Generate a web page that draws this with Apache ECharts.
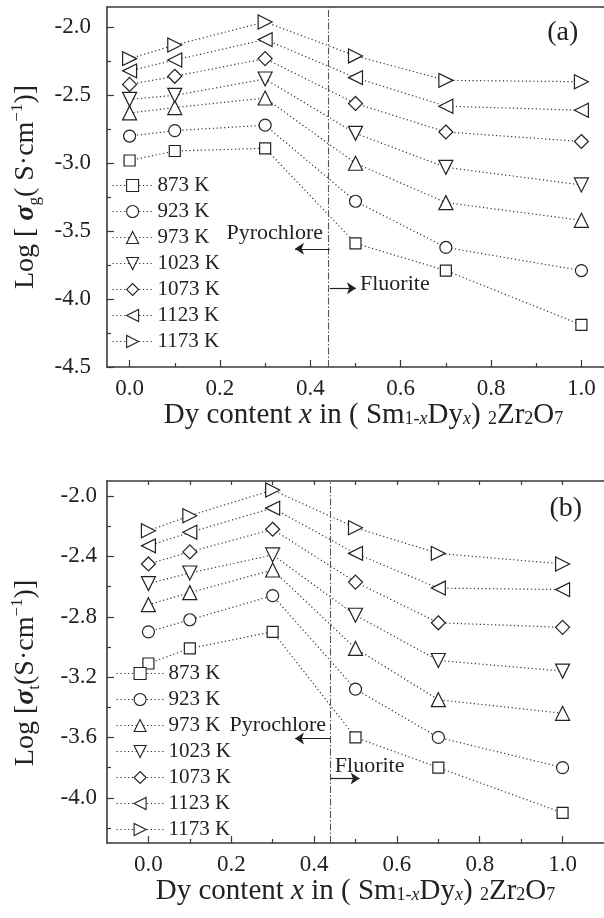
<!DOCTYPE html>
<html lang="en">
<head>
    <meta charset="UTF-8">
    <title>Sm-Dy zirconate conductivity</title>
    <script src="https://cdn.jsdelivr.net/npm/echarts@6/dist/echarts.min.js"></script>
    <style>
        body { margin: 0; background: #fff; }
    </style>
</head>
<body>
    <div id="main" style="width: 604px; height: 918px;"></div>
    <script>
        // Dy content x
        const xValues = [0, 0.1, 0.3, 0.5, 0.7, 1.0];
        const temperatures = ['873 K', '923 K', '973 K', '1023 K', '1073 K', '1123 K', '1173 K'];

        // (a) log sigma_g
        const g873 = [-2.98, -2.91, -2.89, -3.59, -3.79, -4.19];
        const g923 = [-2.80, -2.76, -2.72, -3.28, -3.62, -3.79];
        const g973 = [-2.63, -2.59, -2.52, -3.00, -3.29, -3.42];
        const g1023 = [-2.53, -2.50, -2.38, -2.78, -3.03, -3.16];
        const g1073 = [-2.42, -2.36, -2.23, -2.56, -2.77, -2.84];
        const g1123 = [-2.32, -2.24, -2.09, -2.37, -2.58, -2.61];
        const g1173 = [-2.23, -2.13, -1.96, -2.21, -2.39, -2.40];

        // (b) log sigma_t
        const t873 = [-3.11, -3.01, -2.90, -3.60, -3.80, -4.10];
        const t923 = [-2.90, -2.82, -2.66, -3.28, -3.60, -3.80];
        const t973 = [-2.72, -2.64, -2.49, -3.01, -3.35, -3.44];
        const t1023 = [-2.58, -2.51, -2.39, -2.79, -3.09, -3.16];
        const t1073 = [-2.45, -2.37, -2.22, -2.57, -2.84, -2.87];
        const t1123 = [-2.33, -2.24, -2.08, -2.38, -2.61, -2.62];
        const t1173 = [-2.23, -2.13, -1.96, -2.21, -2.38, -2.45];

        const sigmaG = [g873, g923, g973, g1023, g1073, g1123, g1173];
        const sigmaT = [t873, t923, t973, t1023, t1073, t1123, t1173];

        // tick labels
        const xTicksMajor = [0, 0.2, 0.4, 0.6, 0.8, 1.0];
        const xTicksMinor = [0.1, 0.3, 0.5, 0.7, 0.9];
        const xTicksTopB = [0, 0.1, 0.2, 0.3, 0.4, 0.5, 0.6, 0.7, 0.8, 0.9, 1.0];
        const yTicksMajorA = [-4.5, -4.0, -3.5, -3.0, -2.5, -2.0];
        const yTicksMinorA = [-4.25, -3.75, -3.25, -2.75, -2.25];
        const yTicksMajorB = [-4.0, -3.6, -3.2, -2.8, -2.4, -2.0];
        const yTicksMinorB = [-4.2, -3.8, -3.4, -3.0, -2.6, -2.2];

        // phase boundary and annotations (data units)
        const boundaryA = 0.443;
        const boundaryB = 0.439;
        const arrowsA = [[[0.443, -3.63], [0.366, -3.63]], [[0.443, -3.92], [0.501, -3.92]]];
        const arrowsB = [[[0.439, -3.607], [0.354, -3.607]], [[0.439, -3.872], [0.51, -3.872]]];
        const notesA = [['Pyrochlore', 0.428, -3.517, 'right', 22], ['Fluorite', 0.51, -3.89, 'left', 22], ['(a)', 0.993, -2.04, 'right', 28]];
        const notesB = [['Pyrochlore', 0.429, -3.519, 'right', 22], ['Fluorite', 0.45, -3.79, 'left', 22], ['(b)', 1.047, -2.08, 'right', 28]];

        const symbols = ['rect', 'circle', 'triangle', 'triangle', 'diamond', 'triangle', 'triangle'];
        const symbolRotations = [0, 0, 0, 180, 0, 90, -90];
        const symbolSizes = [11, 12, 14, 14, 14, 14, 14];

        const serif = "'Liberation Serif', 'Times New Roman', serif";
        const ink = '#222';
        const frame = '#3a3a3a';

        const chart = echarts.init(document.getElementById('main'));

        function lineSeries(values, i, xi, yi) {
            return {
                name: temperatures[i],
                type: 'line',
                xAxisIndex: xi,
                yAxisIndex: yi,
                data: xValues.map((x, k) => [x, values[k]]),
                symbol: symbols[i],
                symbolRotate: symbolRotations[i],
                symbolSize: symbolSizes[i],
                lineStyle: { type: [1.2, 2.6], width: 1.2, color: '#333' },
                itemStyle: { color: '#fff', borderColor: ink, borderWidth: 1.2 },
                emphasis: { disabled: true },
                z: 3
            };
        }

        function xAxes(grid, ticksTop) {
            const lo = grid === 0 ? -0.05 : -0.1;
            const hi = grid === 0 ? 1.05 : 1.1;
            return [
                {
                    type: 'value', gridIndex: grid, position: 'bottom', min: lo, max: hi,
                    axisLine: { onZero: false, lineStyle: { color: frame, width: 1.6 } },
                    axisTick: { inside: true, length: 7, customValues: xTicksMajor, lineStyle: { color: frame, width: 1.2 } },
                    axisLabel: { customValues: xTicksMajor, formatter: v => v.toFixed(1), fontFamily: serif, fontSize: 23, color: ink, margin: 10 },
                    splitLine: { show: false },
                    name: '{a|Dy content }{i|x}{a| in ( Sm}{s|1-}{si|x}{a|Dy}{si|x}{a|) }{s|2}{a|Zr}{s|2}{a|O}{s|7}',
                    nameLocation: 'middle',
                    nameGap: grid === 0 ? 29 : 33,
                    nameTextStyle: {
                        padding: [0, 0, 0, grid === 0 ? 16 : 0],
                        rich: {
                            a: { fontFamily: serif, fontSize: 29, color: ink, lineHeight: 30 },
                            i: { fontFamily: serif, fontSize: 29, fontStyle: 'italic', color: ink, lineHeight: 30 },
                            s: { fontFamily: serif, fontSize: 18, color: ink, lineHeight: 18, padding: [7, 0, 0, 0] },
                            si: { fontFamily: serif, fontSize: 18, fontStyle: 'italic', color: ink, lineHeight: 18, padding: [7, 0, 0, 0] }
                        }
                    }
                },
                {
                    type: 'value', gridIndex: grid, position: 'bottom', min: lo, max: hi,
                    axisLine: { show: false, onZero: false },
                    axisTick: { inside: true, length: 4, customValues: xTicksMinor, lineStyle: { color: frame, width: 1.2 } },
                    axisLabel: { show: false },
                    splitLine: { show: false }
                },
                {
                    type: 'value', gridIndex: grid, position: 'top', min: lo, max: hi,
                    axisLine: { onZero: false, lineStyle: { color: frame, width: 1.6 } },
                    axisTick: ticksTop
                        ? { inside: true, length: 4, customValues: xTicksTopB, lineStyle: { color: frame, width: 1.2 } }
                        : { show: false },
                    axisLabel: { show: false },
                    splitLine: { show: false }
                }
            ];
        }

        function yAxes(grid, major, minor, min, max, name, gap, pad) {
            return [
                {
                    type: 'value', gridIndex: grid, min: min, max: max, position: 'left',
                    axisLine: { show: true, onZero: false, lineStyle: { color: frame, width: 1.6 } },
                    axisTick: { show: true, inside: true, length: 7, customValues: major, lineStyle: { color: frame, width: 1.2 } },
                    axisLabel: { customValues: major, formatter: v => v.toFixed(1), fontFamily: serif, fontSize: 23, color: ink, margin: grid === 0 ? 16 : 10 },
                    splitLine: { show: false },
                    name: name,
                    nameLocation: 'middle',
                    nameRotate: 90,
                    nameGap: gap,
                    nameTextStyle: {
                        padding: pad,
                        rich: {
                            a: { fontFamily: serif, fontSize: 28, color: ink, lineHeight: 34 },
                            g: { fontFamily: serif, fontSize: 28, fontStyle: 'italic', fontWeight: 'bold', color: ink, lineHeight: 34 },
                            sub: { fontFamily: serif, fontSize: 17, color: ink, lineHeight: 16, verticalAlign: 'bottom' },
                            sup: { fontFamily: serif, fontSize: 17, color: ink, lineHeight: 16, verticalAlign: 'top' }
                        }
                    }
                },
                {
                    type: 'value', gridIndex: grid, min: min, max: max, position: 'left',
                    axisLine: { show: false, onZero: false },
                    axisTick: { show: true, inside: true, length: 4, customValues: minor, lineStyle: { color: frame, width: 1.2 } },
                    axisLabel: { show: false },
                    splitLine: { show: false }
                }
            ];
        }

        function legendFor(top, left, width) {
            return {
                data: temperatures,
                orient: 'vertical',
                left: left,
                top: top,
                padding: 0,
                itemGap: 5,
                itemWidth: width,
                itemHeight: 15,
                selectedMode: false,
                itemStyle: { color: '#fff', borderColor: ink, borderWidth: 1.1 },
                lineStyle: { type: [1.2, 2.6], width: 1.2, color: '#333' },
                textStyle: { fontFamily: serif, fontSize: 21, color: ink, lineHeight: 21 }
            };
        }

        const seriesA = sigmaG.map((v, i) => lineSeries(v, i, 0, 0));
        const seriesB = sigmaT.map((v, i) => lineSeries(v, i, 3, 2));

        const boundaryStyle = { type: [7, 2, 1.5, 2], color: '#555', width: 1.1 };
        const arrowStyle = { type: 'solid', color: '#222', width: 1.2 };

        seriesA[0].markLine = { silent: true, symbol: 'none', label: { show: false }, lineStyle: boundaryStyle, data: [{ xAxis: boundaryA }] };
        seriesA[1].markLine = {
            silent: true, symbol: ['none', 'arrow'], symbolSize: 9, label: { show: false }, lineStyle: arrowStyle,
            data: arrowsA.map(a => [{ coord: a[0] }, { coord: a[1] }])
        };
        seriesB[0].markLine = { silent: true, symbol: 'none', label: { show: false }, lineStyle: boundaryStyle, data: [{ xAxis: boundaryB }] };
        seriesB[1].markLine = {
            silent: true, symbol: ['none', 'arrow'], symbolSize: 9, label: { show: false }, lineStyle: arrowStyle,
            data: arrowsB.map(a => [{ coord: a[0] }, { coord: a[1] }])
        };

        const option = {
            animation: false,
            backgroundColor: '#fff',
            grid: [
                { left: 107, top: 7, width: 498, height: 360 },
                { left: 107, top: 481, width: 501, height: 362 }
            ],
            xAxis: xAxes(0, false).concat(xAxes(1, true)),
            yAxis: yAxes(0, yTicksMajorA, yTicksMinorA, -4.5, -1.85,
                '{a|Log [ }{g|σ}{sub|g}{a|( S·cm}{sup|−1}{a|)]}', 64, [0, 0, 0, 0])
                .concat(yAxes(1, yTicksMajorB, yTicksMinorB, -4.3, -1.9,
                    '{a|Log [}{g|σ}{sub|t}{a|(S·cm}{sup|−1}{a|)]}', 64, [0, 22, 0, 0])),
            legend: [legendFor(175, 112, 40), legendFor(663, 116, 47)],
            series: seriesA.concat(seriesB)
        };
        chart.setOption(option);

        // text annotations placed from data coordinates
        const texts = [];
        [[notesA, 0], [notesB, 7]].forEach(([notes, seriesIndex]) => {
            notes.forEach(n => {
                const p = chart.convertToPixel({ seriesIndex: seriesIndex }, [n[1], n[2]]);
                texts.push({
                    type: 'text', x: p[0], y: p[1], silent: true,
                    style: { text: n[0], font: n[4] + "px 'Liberation Serif', 'Times New Roman', serif", fill: ink, align: n[3], verticalAlign: 'middle' }
                });
            });
        });
        chart.setOption({ graphic: texts });
    </script>
</body>
</html>
